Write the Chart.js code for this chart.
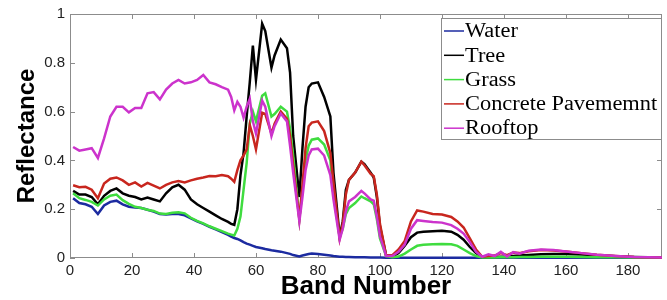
<!DOCTYPE html>
<html>
<head>
<meta charset="utf-8">
<title>Reflectance par bande</title>
<script src="https://cdn.jsdelivr.net/npm/chart.js@4.4.0/dist/chart.umd.min.js"></script>
<style>
    html, body { margin: 0; padding: 0; background: #fff; }
    #chartBandsWrap { width: 667px; height: 300px; }
</style>
</head>
<body>
<div id="chartBandsWrap"><canvas id="chartBands" width="667" height="300"></canvas></div>
<script>
'use strict';

/* ── Données ── */
var BANDS = [
    1, 3, 5, 7, 9, 11, 13, 15, 17, 19, 21, 23, 25, 27, 29, 31, 33, 35, 37, 39, 41, 43, 45, 47, 49, 51,
    52, 53, 54, 55, 56, 57, 58, 59, 60,
    62, 63, 65, 66, 68, 70, 71, 72,
    74, 75, 76, 77, 78, 80, 82, 84, 85,
    87, 88, 89, 90, 92, 94, 95, 97, 98, 99, 100,
    102, 104, 106, 108, 110, 112, 114, 117, 120, 123, 125, 127, 129, 131, 133,
    135, 137, 139, 141, 143, 145, 148, 152, 156, 160, 165, 170, 176, 182, 191
];

var WATER = [
    .245, .225, .22, .21, .18, .215, .23, .235, .22, .21, .207, .205, .198, .19, .18, .178, .18, .18, .175, .162, .15, .14, .128, .117, .106, .095,
    .088, .082, .078, .072, .065, .059, .055, .05, .045,
    .04, .037, .032, .03, .026, .02, .017, .012,
    .006, .01, .013, .016, .018, .016, .013, .01, .008,
    .005, .005, .004, .004, .003, .003, .003, .002, .002, .002, .002,
    .001, .001, .001, .001, .001, .001, .001, .001, .001, .001, .001, .001, .001, .001, .001,
    .001, .001, .001, .001, .001, .001, .001, .001, .001, .001, .001, .001, .001, .001, .001
];

var TREE = [
    .275, .26, .26, .25, .22, .255, .275, .285, .265, .255, .25, .24, .248, .24, .232, .265, .29, .30, .28, .24, .22, .205, .19, .175, .16, .148,
    .14, .136, .2, .34, .43, .58, .72, .87, .73,
    .96, .93, .78, .83, .895, .86, .76, .50,
    .25, .45, .62, .70, .715, .72, .66, .58, .35,
    .09, .15, .28, .32, .35, .395, .385, .35, .33, .25, .13,
    .01, .005, .02, .05, .085, .104, .108, .11, .112, .108, .095, .075, .045, .02, .003,
    .003, .004, .005, .006, .008, .01, .012, .015, .016, .016, .014, .011, .007, .004, .002
];

var GRASS = [
    .265, .245, .238, .23, .215, .24, .255, .26, .237, .222, .21, .205, .198, .193, .182, .18, .185, .187, .183, .165, .152, .142, .13, .12, .11, .10,
    .096, .092, .12, .17, .28, .39, .55, .60, .56,
    .665, .675, .58, .59, .62, .60, .53, .42,
    .16, .28, .40, .46, .485, .49, .465, .40, .26,
    .085, .12, .18, .205, .225, .252, .245, .232, .22, .16, .08,
    .008, .003, .006, .018, .035, .05, .054, .056, .057, .056, .05, .035, .02, .008, .002,
    .002, .002, .003, .003, .003, .004, .004, .005, .005, .005, .004, .003, .003, .002, .002
];

var CONCRETE = [
    .298, .29, .292, .28, .245, .305, .325, .33, .318, .30, .31, .293, .308, .297, .285, .30, .31, .315, .31, .318, .325, .33, .336, .335, .34, .335,
    .325, .312, .36, .40, .42, .445, .545, .50, .445,
    .595, .59, .51, .55, .60, .57, .50, .38,
    .16, .30, .45, .54, .555, .56, .52, .43, .31,
    .08, .14, .26, .32, .35, .395, .38, .345, .335, .26, .14,
    .01, .012, .035, .07, .15, .195, .19, .18, .178, .168, .15, .125, .08, .035, .005,
    .008, .01, .02, .012, .022, .02, .028, .033, .031, .027, .02, .013, .008, .004, .002
];

var ROOFTOP = [
    .455, .44, .445, .45, .41, .49, .58, .62, .62, .597, .615, .615, .675, .68, .65, .69, .715, .73, .715, .72, .73, .75, .72, .712, .70, .69,
    .66, .605, .64, .62, .575, .62, .652, .56, .51,
    .645, .62, .50, .54, .592, .56, .46, .35,
    .15, .25, .36, .42, .445, .448, .42, .34, .24,
    .075, .12, .19, .232, .25, .275, .265, .24, .235, .17, .09,
    .008, .008, .025, .055, .12, .155, .152, .148, .145, .135, .12, .10, .065, .025, .005,
    .015, .008, .025, .006, .024, .018, .03, .035, .033, .027, .02, .013, .008, .004, .002
];

var SERIES_NAMES  = ['Water', 'Tree', 'Grass', 'Concrete Pavememnt', 'Rooftop'];
var SERIES_VALUES = [WATER, TREE, GRASS, CONCRETE, ROOFTOP];
var SERIES_COLORS = ['#1c2ba0', '#000000', '#3fdc3f', '#c8261e', '#cc33cc'];

var X_MIN = 0, X_MAX = 191, X_STEP = 20;
var Y_MIN = 0, Y_MAX = 1, Y_STEP = 0.2;

/* ── Cadre MATLAB : boîte grise + graduations intérieures ── */
var axesFrame = {
    id: 'axesFrame',
    beforeDatasetsDraw: function (chart) {
        var a = chart.chartArea, ctx = chart.ctx;
        var sx = chart.scales.x, sy = chart.scales.y;
        ctx.save();
        ctx.strokeStyle = '#8c8c8c';
        ctx.lineWidth = 1;
        ctx.strokeRect(a.left + 0.5, a.top + 0.5, a.right - a.left - 1, a.bottom - a.top - 1);
        ctx.beginPath();
        sx.ticks.forEach(function (t) {
            var px = Math.round(sx.getPixelForValue(t.value)) + 0.5;
            ctx.moveTo(px, a.bottom); ctx.lineTo(px, a.bottom - 5);
            ctx.moveTo(px, a.top);    ctx.lineTo(px, a.top + 5);
        });
        sy.ticks.forEach(function (t) {
            var py = Math.round(sy.getPixelForValue(t.value)) + 0.5;
            ctx.moveTo(a.left, py);  ctx.lineTo(a.left + 5, py);
            ctx.moveTo(a.right, py); ctx.lineTo(a.right - 5, py);
        });
        ctx.stroke();
        ctx.restore();
    }
};

/* ── Légende encadrée en haut à droite ── */
var legendBox = {
    id: 'legendBox',
    afterDraw: function (chart) {
        var a = chart.chartArea, ctx = chart.ctx;
        var w = 220, h = 121;
        var x0 = a.right - w - 1, y0 = a.top + 4;
        ctx.save();
        ctx.fillStyle = '#fff';
        ctx.fillRect(x0, y0, w, h);
        ctx.strokeStyle = '#8c8c8c';
        ctx.lineWidth = 1;
        ctx.strokeRect(x0 + 0.5, y0 + 0.5, w, h);
        ctx.font = '20px "Liberation Serif", "Times New Roman", serif';
        ctx.textBaseline = 'middle';
        chart.data.datasets.forEach(function (ds, i) {
            var yc = y0 + 13 + i * 24.3;
            ctx.strokeStyle = ds.borderColor;
            ctx.lineWidth = 1.5;
            ctx.beginPath();
            ctx.moveTo(x0 + 3, yc); ctx.lineTo(x0 + 23, yc);
            ctx.stroke();
            ctx.save();
            ctx.translate(x0 + 24, yc + 1);
            ctx.scale(1.12, 1);
            ctx.fillStyle = '#000';
            ctx.fillText(ds.label, 0, 0);
            ctx.restore();
        });
        ctx.restore();
    }
};

var datasets = SERIES_NAMES.map(function (name, i) {
    var vals = SERIES_VALUES[i];
    return {
        label:       name,
        data:        BANDS.map(function (b, k) { return { x: b, y: vals[k] }; }),
        borderColor: SERIES_COLORS[i],
        borderWidth: 2.5,
        pointRadius: 0,
        tension:     0,
        fill:        false,
        clip:        4,
        order:       SERIES_NAMES.length - i   // Rooftop tracé au-dessus
    };
});

new Chart(document.getElementById('chartBands'), {
    type: 'line',
    data: { datasets: datasets },
    plugins: [axesFrame, legendBox],
    options: {
        responsive: false,
        animation: false,
        layout: { padding: { top: 8, right: 5, left: 0, bottom: 0 } },
        scales: {
            x: {
                type: 'linear',
                min: X_MIN, max: X_MAX,
                grid: { display: false, drawTicks: false },
                border: { display: false },
                afterFit: function (s) { s.height = 42; },
                ticks: {
                    stepSize: X_STEP,
                    includeBounds: false,
                    padding: 4,
                    color: '#222',
                    font: { family: '"Liberation Sans", Arial, sans-serif', size: 15 }
                },
                title: {
                    display: true,
                    text: 'Band Number',
                    color: '#000',
                    padding: { top: 2, bottom: 0 },
                    font: { family: '"Liberation Sans", Arial, sans-serif', size: 26, weight: 'bold', lineHeight: 1 }
                }
            },
            y: {
                min: Y_MIN, max: Y_MAX,
                grid: { display: false, drawTicks: false },
                border: { display: false },
                afterFit: function (s) { s.width = 70; },
                ticks: {
                    stepSize: Y_STEP,
                    padding: 5,
                    color: '#222',
                    font: { family: '"Liberation Sans", Arial, sans-serif', size: 15 },
                    callback: function (v) { return String(Math.round(v * 10) / 10); }
                },
                title: {
                    display: true,
                    text: 'Reflectance',
                    color: '#000',
                    padding: { top: 15, bottom: 0 },
                    font: { family: '"Liberation Sans", Arial, sans-serif', size: 24, weight: 'bold', lineHeight: 1 }
                }
            }
        },
        plugins: {
            legend: { display: false },
            tooltip: { enabled: false }
        }
    }
});
</script>
</body>
</html>
